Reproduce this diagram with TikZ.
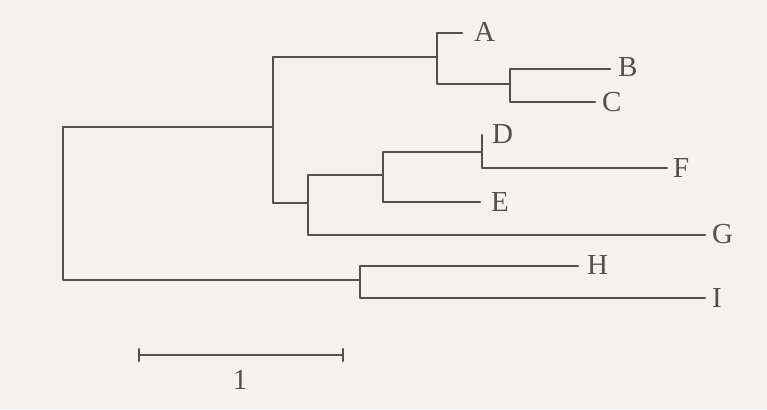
\documentclass[tikz,border=0pt]{standalone}
\usepackage{fontspec}
\setmainfont{Liberation Serif}
\definecolor{paper}{HTML}{F4F2EE}
\definecolor{ink}{HTML}{54504B}
\begin{document}
\begin{tikzpicture}[x=1pt,y=-1pt,
  branch/.style={draw=ink,line width=2.6pt,line cap=round,line join=round},
  leaf/.style={anchor=west,inner sep=0pt,text=ink,font=\fontsize{29}{29}\selectfont}]
\fill[paper] (0,0) rectangle (767,409);
\useasboundingbox (0,0) rectangle (767,409);
% internal coordinates
\coordinate (rt) at (63,127);  \coordinate (rb) at (63,280);
\coordinate (n1t) at (273,57); \coordinate (n1b) at (273,203); \coordinate (n1m) at (273,127);
\coordinate (nAt) at (437,33); \coordinate (nAb) at (437,84);  \coordinate (nAm) at (437,57);
\coordinate (nBt) at (510,69); \coordinate (nBb) at (510,102); \coordinate (nBm) at (510,84);
\coordinate (nGt) at (308,175);\coordinate (nGb) at (308,235); \coordinate (nGm) at (308,203);
\coordinate (nEt) at (383,152);\coordinate (nEb) at (383,202); \coordinate (nEm) at (383,175);
\coordinate (nDt) at (482,135);\coordinate (nDb) at (482,168); \coordinate (nDm) at (482,152);
\coordinate (nHt) at (360,266);\coordinate (nHb) at (360,298); \coordinate (nHm) at (360,280);
% leaf ends
\coordinate (eA) at (462,33);  \coordinate (eB) at (610,69);  \coordinate (eC) at (595,102);
\coordinate (eE) at (480,202); \coordinate (eF) at (667,168); \coordinate (eG) at (705,235);
\coordinate (eH) at (578,266); \coordinate (eI) at (705,298);
% tree
\draw[branch] (n1m) -- (rt) -- (rb) -- (nHm);
\draw[branch] (nAm) -- (n1t) -- (n1b) -- (nGm);
\draw[branch] (eA) -- (nAt) -- (nAb) -- (nBm);
\draw[branch] (eB) -- (nBt) -- (nBb) -- (eC);
\draw[branch] (nEm) -- (nGt) -- (nGb) -- (eG);
\draw[branch] (nDm) -- (nEt) -- (nEb) -- (eE);
\draw[branch] (nDt) -- (nDb) -- (eF);
\draw[branch] (eH) -- (nHt) -- (nHb) -- (eI);
% labels
\node[leaf] (A) at ([xshift=12pt,yshift=1pt]eA) {A};
\node[leaf] (B) at ([xshift=8pt,yshift=2pt]eB) {B};
\node[leaf] (C) at ([xshift=7pt]eC) {C};
\node[leaf] (D) at ([xshift=10pt,yshift=1pt]nDt) {D};
\node[leaf] (E) at ([xshift=11pt]eE) {E};
\node[leaf] (F) at ([xshift=6pt]eF) {F};
\node[leaf] (G) at ([xshift=7pt,yshift=1pt]eG) {G};
\node[leaf] (H) at ([xshift=9pt,yshift=1pt]eH) {H};
\node[leaf] (I) at ([xshift=7pt]eI) {I};
% scale bar
\coordinate (s1) at (139,355); \coordinate (s2) at (343,355);
\draw[branch] (s1) -- (s2);
\draw[branch] ([yshift=-6pt]s1) -- ([yshift=6pt]s1);
\draw[branch] ([yshift=-6pt]s2) -- ([yshift=6pt]s2);
\node[text=ink,inner sep=0pt,font=\fontsize{29}{29}\selectfont] (one) at (240,380) {1};
\end{tikzpicture}
\end{document}
